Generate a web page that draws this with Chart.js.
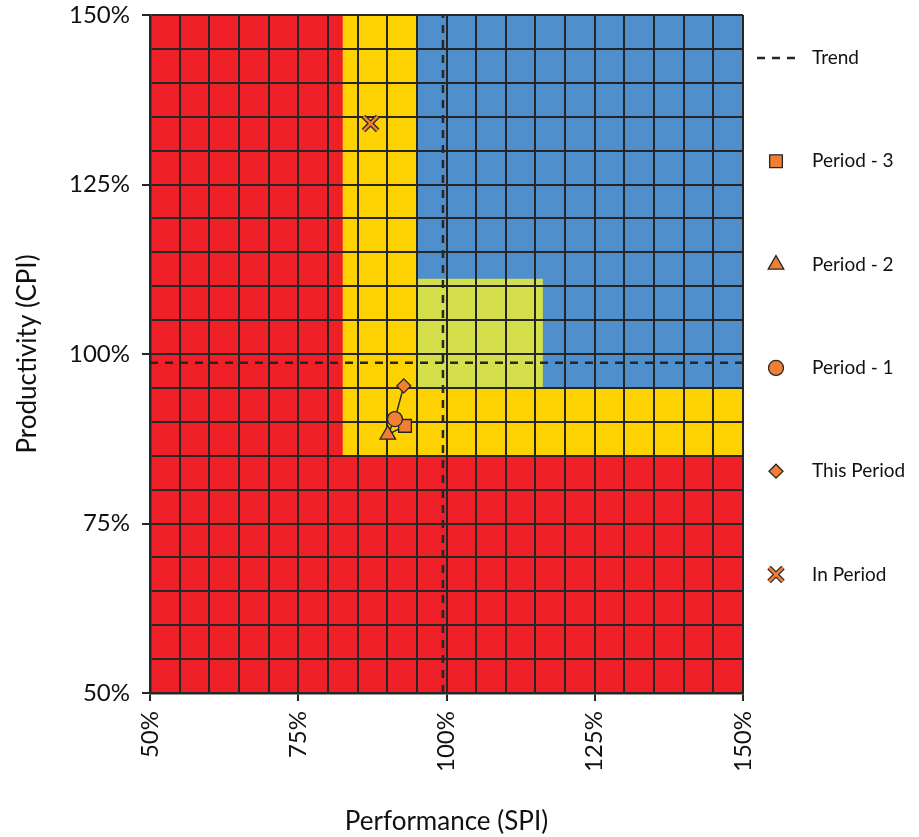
<!DOCTYPE html>
<html>
<head>
<meta charset="utf-8">
<script src="https://cdn.jsdelivr.net/npm/chart.js@4/dist/chart.umd.min.js"></script>
<style>
  html, body { margin: 0; padding: 0; background: #fff; }
  #wrap { width: 919px; height: 837px; }
</style>
</head>
<body>
<div id="wrap"><canvas id="myChart" width="919" height="837"></canvas></div>
<script>
// axis range and tick labels (percent)
const axisMin = 50;
const axisMax = 150;
const gridStep = 5;
const tickLabels = ['50%', '75%', '100%', '125%', '150%'];

// background zones: SPI (x) and CPI (y) bounds, drawn in this order
const zoneNames = ['red', 'yellow', 'yellow', 'blue', 'green'];
const zoneSpiFrom = [50, 82.5, 95, 95, 95];
const zoneSpiTo = [150, 95, 150, 150, 116.25];
const zoneCpiFrom = [50, 85, 85, 95, 95];
const zoneCpiTo = [150, 150, 95, 150, 111.1];

// periods, most recent first (the path is drawn in this order)
const periodNames = ['This Period', 'Period - 1', 'Period - 2', 'Period - 3'];
const periodSpi = [92.8, 91.3, 90.1, 93.0];
const periodCpi = [95.3, 90.4, 88.1, 89.4];

// in-period point
const inPeriodSpi = [87.2];
const inPeriodCpi = [134.0];

// trend lines
const trendSpi = 99.4;
const trendCpi = 98.7;

// legend order
const legendNames = ['Trend', 'Period - 3', 'Period - 2', 'Period - 1', 'This Period', 'In Period'];


(function() {
  'use strict';

  const FONT = 'Lato, "Open Sans", sans-serif';
  const INK = '#262626';
  const ORANGE = '#f07f35';
  const zoneColors = {
    red: '#ee1f27',
    yellow: '#fed200',
    blue: '#4f8fcb',
    green: '#d4df4b'
  };
  const periodStyles = {
    'This Period': { style: 'rectRot', radius: 7 },
    'Period - 1': { style: 'circle', radius: 7.5 },
    'Period - 2': { style: 'triangle', radius: 9 },
    'Period - 3': { style: 'rect', radius: 9 }
  };

  function pts(xs, ys) {
    return xs.map((x, i) => ({ x: x, y: ys[i] }));
  }

  /* paints the coloured zones before the grid goes on top */
  const zonePlugin = {
    id: 'zones',
    beforeDraw(chart) {
      const ctx = chart.ctx;
      const xs = chart.scales.x;
      const ys = chart.scales.y;
      ctx.save();
      for (let i = 0; i < zoneNames.length; i++) {
        const x0 = xs.getPixelForValue(zoneSpiFrom[i]);
        const x1 = xs.getPixelForValue(zoneSpiTo[i]);
        const y0 = ys.getPixelForValue(zoneCpiTo[i]);
        const y1 = ys.getPixelForValue(zoneCpiFrom[i]);
        ctx.fillStyle = zoneColors[zoneNames[i]];
        ctx.fillRect(x0, y0, x1 - x0, y1 - y0);
      }
      ctx.restore();
    }
  };

  function drawMarker(ctx, name, x, y) {
    if (name === 'In Period') {
      ctx.lineWidth = 5; ctx.strokeStyle = INK;
      ctx.beginPath(); ctx.moveTo(x - 7, y - 7); ctx.lineTo(x + 7, y + 7);
      ctx.moveTo(x + 7, y - 7); ctx.lineTo(x - 7, y + 7); ctx.stroke();
      ctx.lineWidth = 2.5; ctx.strokeStyle = ORANGE;
      ctx.stroke();
      return;
    }
    const s = periodStyles[name];
    ctx.fillStyle = ORANGE;
    ctx.strokeStyle = INK;
    ctx.lineWidth = 1.3;
    Chart.helpers.drawPoint(ctx, { pointStyle: s.style, radius: s.radius, borderWidth: 1.3 }, x, y);
  }

  /* legend on the right, spaced out like the original */
  const legendPlugin = {
    id: 'sideLegend',
    afterDraw(chart) {
      const ctx = chart.ctx;
      const area = chart.chartArea;
      const mx = area.right + 33;
      const tx = area.right + 69;
      ctx.save();
      ctx.font = '19px ' + FONT;
      ctx.textBaseline = 'middle';
      legendNames.forEach((name, i) => {
        const y = area.top + 43 + i * 103.3;
        if (name === 'Trend') {
          ctx.strokeStyle = INK;
          ctx.lineWidth = 2.5;
          ctx.setLineDash([8, 7]);
          ctx.beginPath();
          ctx.moveTo(mx - 19, y);
          ctx.lineTo(mx + 20, y);
          ctx.stroke();
          ctx.setLineDash([]);
        } else {
          drawMarker(ctx, name, mx, y);
        }
        ctx.fillStyle = '#111';
        ctx.fillText(name, tx, y);
      });
      ctx.restore();
    }
  };

  function tickLabel(v) {
    const idx = tickLabels.indexOf(v + '%');
    return idx >= 0 ? tickLabels[idx] : '';
  }

  function tickColor(c) {
    return (c.tick && c.tick.value % 25 === 0) ? INK : 'rgba(0,0,0,0)';
  }

  const periodData = pts(periodSpi, periodCpi);

  const datasets = [];

  // trend lines
  datasets.push({
    label: 'Trend SPI', type: 'line',
    data: [{ x: trendSpi, y: axisMin }, { x: trendSpi, y: axisMax }],
    borderColor: INK, borderWidth: 2.5, borderDash: [8, 7],
    pointRadius: 0, showLine: true, order: 5
  });
  datasets.push({
    label: 'Trend CPI', type: 'line',
    data: [{ x: axisMin, y: trendCpi }, { x: axisMax, y: trendCpi }],
    borderColor: INK, borderWidth: 2.5, borderDash: [8, 7],
    pointRadius: 0, showLine: true, order: 5
  });

  // path between periods
  datasets.push({
    label: 'Path', type: 'line', data: periodData,
    borderColor: INK, borderWidth: 1.5, pointRadius: 0,
    showLine: true, order: 4
  });

  // one dataset per period marker
  periodNames.forEach((name, i) => {
    datasets.push({
      label: name,
      data: [periodData[i]],
      pointStyle: periodStyles[name].style,
      pointRadius: periodStyles[name].radius,
      backgroundColor: ORANGE,
      borderColor: INK,
      borderWidth: 1.3,
      order: 1
    });
  });

  // in-period cross: dark outline under an orange stroke
  const inData = pts(inPeriodSpi, inPeriodCpi);
  datasets.push({
    label: 'In Period outline', data: inData,
    pointStyle: 'crossRot', pointRadius: 10,
    borderColor: INK, borderWidth: 5, order: 2
  });
  datasets.push({
    label: 'In Period', data: inData,
    pointStyle: 'crossRot', pointRadius: 10,
    borderColor: ORANGE, borderWidth: 2.5, order: 1
  });

  const axisCommon = {
    min: axisMin,
    max: axisMax,
    grid: {
      color: INK,
      lineWidth: 2,
      drawTicks: true,
      tickLength: 8,
      tickColor: tickColor,
      tickWidth: 2
    },
    border: { display: true, color: INK, width: 2.5 }
  };

  new Chart(document.getElementById('myChart').getContext('2d'), {
    type: 'scatter',
    data: { datasets: datasets },
    plugins: [zonePlugin, legendPlugin],
    options: {
      responsive: false,
      animation: false,
      events: [],
      layout: { padding: { left: 0, right: 176, top: 15, bottom: 0 } },
      plugins: {
        legend: { display: false },
        tooltip: { enabled: false }
      },
      scales: {
        x: Object.assign({}, axisCommon, {
          type: 'linear',
          afterFit: (s) => { s.height = 144; s.paddingLeft = 0; s.paddingRight = 0; },
          ticks: {
            stepSize: gridStep, autoSkip: false,
            maxRotation: 90, minRotation: 90,
            padding: 10,
            color: '#111',
            font: { family: FONT, size: 24 },
            callback: tickLabel
          },
          title: {
            display: true, text: 'Performance (SPI)',
            color: '#111',
            font: { family: FONT, size: 26 },
            padding: { top: 0, bottom: 0 }
          }
        }),
        y: Object.assign({}, axisCommon, {
          type: 'linear',
          afterFit: (s) => { s.width = 150; s.paddingTop = 0; s.paddingBottom = 0; },
          ticks: {
            stepSize: gridStep, autoSkip: false,
            padding: 12,
            color: '#111',
            font: { family: FONT, size: 24 },
            callback: tickLabel
          },
          title: {
            display: true, text: 'Productivity (CPI)',
            color: '#111',
            font: { family: FONT, size: 26 },
            padding: { top: 12, bottom: 0 }
          }
        })
      }
    }
  });
})();
</script>
</body>
</html>
